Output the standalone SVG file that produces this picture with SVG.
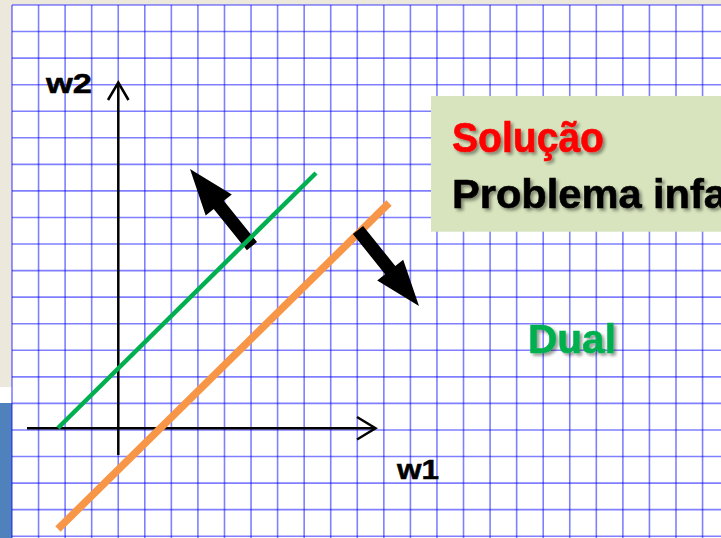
<svg xmlns="http://www.w3.org/2000/svg" width="721" height="538" viewBox="0 0 721 538">
<style>
.grid{stroke:#0000ff;stroke-opacity:0.5;stroke-width:1.6;fill:none}
.axis{stroke:#000;stroke-width:2.5;fill:none}
.lbl{font-family:"Liberation Sans",Arial,sans-serif;font-weight:bold}
.big{filter:url(#sh);stroke-width:0.6}
</style>
<defs>
<filter id="sh" x="-10%" y="-30%" width="130%" height="170%">
<feDropShadow dx="2.5" dy="2.5" stdDeviation="1.6" flood-color="#000" flood-opacity="0.4"/>
</filter>
<filter id="soft"><feGaussianBlur stdDeviation="0.7"/></filter>
</defs>
<rect x="0" y="0" width="721" height="538" fill="#ffffff"/>
<rect x="0" y="0" width="721" height="5" fill="#ECE9DC"/>
<rect x="0" y="0" width="12" height="387" fill="#ECE9DC"/>
<rect x="0" y="403" width="12" height="135" fill="#4F81BD"/>
<g id="grid">
<path class="grid" d="M12 5V538M38.56 5V538M65.12 5V538M91.68 5V538M118.24 5V538M144.8 5V538M171.36 5V538M197.92 5V538M224.48 5V538M251.04 5V538M277.6 5V538M304.16 5V538M330.72 5V538M357.28 5V538M383.84 5V538M410.4 5V538M436.96 5V538M463.52 5V538M490.08 5V538M516.64 5V538M543.2 5V538M569.76 5V538M596.32 5V538M622.88 5V538M649.44 5V538M676 5V538M702.56 5V538"/>
<path class="grid" d="M12 5H721M12 31.56H721M12 58.12H721M12 84.68H721M12 111.24H721M12 137.8H721M12 164.36H721M12 190.92H721M12 217.48H721M12 244.04H721M12 270.6H721M12 297.16H721M12 323.72H721M12 350.28H721M12 376.84H721M12 403.4H721M12 429.96H721M12 456.52H721M12 483.08H721M12 509.64H721M12 536.2H721"/>
</g>
<g id="box">
<rect x="431" y="96" width="290" height="135.7" fill="#D7E4BD"/>
<text class="lbl big" x="452" y="152" font-size="43" fill="#FF0000" stroke="#FF0000" textLength="152" lengthAdjust="spacingAndGlyphs">Solução</text>
<text class="lbl big" x="452" y="208" font-size="41" fill="#000000" stroke="#000000" textLength="275" lengthAdjust="spacingAndGlyphs">Problema infa</text>
</g>
<g id="connectors">
<g id="axis-w2">
<line class="axis" x1="118.3" y1="455" x2="118.3" y2="83"/>
<polyline class="axis" points="108,100 118.3,82.5 128.5,100"/>
</g>
<g id="axis-w1">
<line class="axis" x1="27" y1="428.3" x2="375" y2="428.3"/>
<polyline class="axis" points="357,417 375.5,428.3 357,439.5"/>
</g>
<polygon id="arrow-up" filter="url(#soft)" fill="#000" points="190,169 231.8,194.4 223.8,200.8 257,242 246.9,250.2 213.7,209 205.7,215.4"/>
<line id="green-line" x1="58" y1="428" x2="316" y2="173" stroke="#00B050" stroke-width="4.5"/>
<line id="orange-line" x1="58" y1="529" x2="389" y2="203" stroke="#F79646" stroke-width="7.5"/>
<polygon id="arrow-down" filter="url(#soft)" fill="#000" points="419,306 377.2,280.5 385.1,274.2 352.9,234.1 363.1,225.9 395.3,266 403.2,259.7"/>
</g>
<g id="label-w2"><text class="lbl" x="46" y="93" font-size="27" stroke="#000" stroke-width="0.5" textLength="46" lengthAdjust="spacingAndGlyphs">w2</text></g>
<g id="label-w1"><text class="lbl" x="397" y="479" font-size="27" stroke="#000" stroke-width="0.5" textLength="42" lengthAdjust="spacingAndGlyphs">w1</text></g>
<g id="label-dual"><text class="lbl big" x="528" y="353" font-size="41" fill="#00B050" stroke="#00B050" textLength="88" lengthAdjust="spacingAndGlyphs">Dual</text></g>
</svg>
